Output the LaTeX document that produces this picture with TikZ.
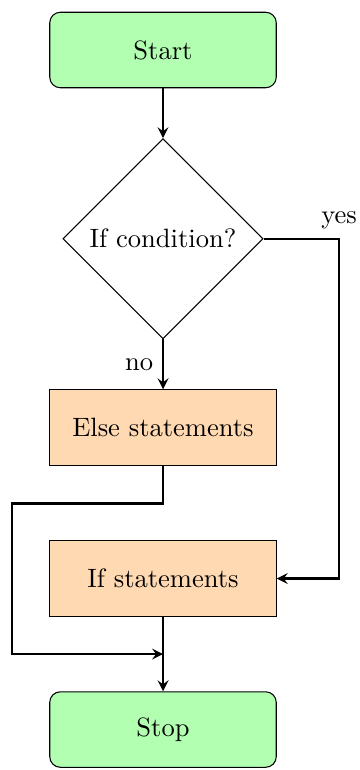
\documentclass[tikz,border=0pt]{standalone}
\usetikzlibrary{shapes.geometric,arrows}
\tikzset{
  startstop/.style={rectangle, rounded corners, minimum width=3cm, minimum height=1cm, text centered, draw=black, fill=green!30},
  process/.style={rectangle, minimum width=3cm, minimum height=1cm, text centered, draw=black, fill=orange!30},
  decision/.style={diamond, minimum width=2.65cm, minimum height=2.65cm, inner sep=0pt, text centered, draw=black},
  arrow/.style={thick,->,>=stealth}
}
\begin{document}
\begin{tikzpicture}
\useasboundingbox (-2.159,0.662) rectangle (2.596,-9.536);
\node[startstop] (start) at (0,0) {Start};
\node[decision] (dec) at (0,-2.5) {If condition?};
\node[process] (else) at (0,-5) {Else statements};
\node[process] (if) at (0,-7) {If statements};
\node[startstop] (stop) at (0,-9) {Stop};
\coordinate (corner) at ([xshift=1cm]dec.east);
\coordinate (loopa) at ([yshift=-0.5cm]else.south);
\coordinate (loopb) at (-2,-8);
\coordinate (loopend) at (0,-8);
\draw[arrow] (start) -- (dec);
\draw[arrow] (dec) -- node[left] {no} (else);
\draw[arrow] (dec.east) -- (corner) node[above] {yes} |- (if.east);
\draw[arrow] (else.south) -- (loopa) -| (loopb) -- (loopend);
\draw[arrow] (if.south) -- (stop.north);
\end{tikzpicture}
\end{document}
